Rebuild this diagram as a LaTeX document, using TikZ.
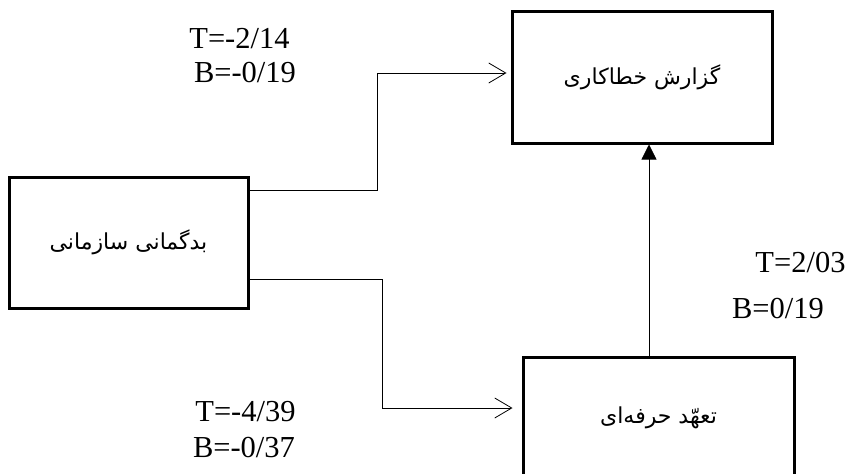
\documentclass[tikz,border=0pt]{standalone}
\usepackage{fontspec}
\setmainfont{Liberation Serif}
\newfontfamily\persianfont[Script=Arabic]{DejaVu Sans}
\TeXXeTstate=1
\usetikzlibrary{arrows.meta}

\begin{document}
\begin{tikzpicture}[x=1pt,y=-1pt,
	box/.style={draw,line width=3pt,inner sep=0pt,font={\persianfont\fontsize{22}{26}\selectfont}},
	coef/.style={inner sep=0pt,anchor=base,font={\fontsize{30.5}{36}\selectfont}},
	link/.style={line width=0.8pt,-{Straight Barb[length=17pt,width=20pt,line width=0.8pt]}},
	uplink/.style={line width=0.8pt,-{Triangle[length=15pt,width=15pt]}}]
	\useasboundingbox (0,0) rectangle (852,474);
	\node[box,minimum width=260pt,minimum height=132pt] (gk) at (642,77) {\beginR گزارش خطاکاری\endR};
	\node[box,minimum width=239pt,minimum height=131pt] (bs) at (128.5,242.5) {\beginR بدگمانی سازمانی\endR};
	\node[box,minimum width=271pt,minimum height=121pt] (th) at (658.5,417.5) {\beginR تعهّد حرفه^^^^200cای\endR};
	\draw[link] ([yshift=-15pt]bs.north east) -- ++(128,0) |- ([xshift=-4pt,yshift=4pt]gk.west);
	\draw[link] ([yshift=30pt]bs.south east) -- ++(133,0) |- ([xshift=-9pt,yshift=9.5pt]th.west);
	\draw[uplink] ([xshift=-9.5pt]th.north) -- ([xshift=-9.5pt]th.north |- gk.south);
	\node[coef] (t1) at (239.5,48) {T=-2/14};
	\node[coef] (b1) at (245,82) {B=-0/19};
	\node[coef] (t2) at (800.5,272) {T=2/03};
	\node[coef] (b2) at (778,318) {B=0/19};
	\node[coef] (t3) at (245.5,421) {T=-4/39};
	\node[coef] (b3) at (244,457) {B=-0/37};
\end{tikzpicture}
\end{document}
